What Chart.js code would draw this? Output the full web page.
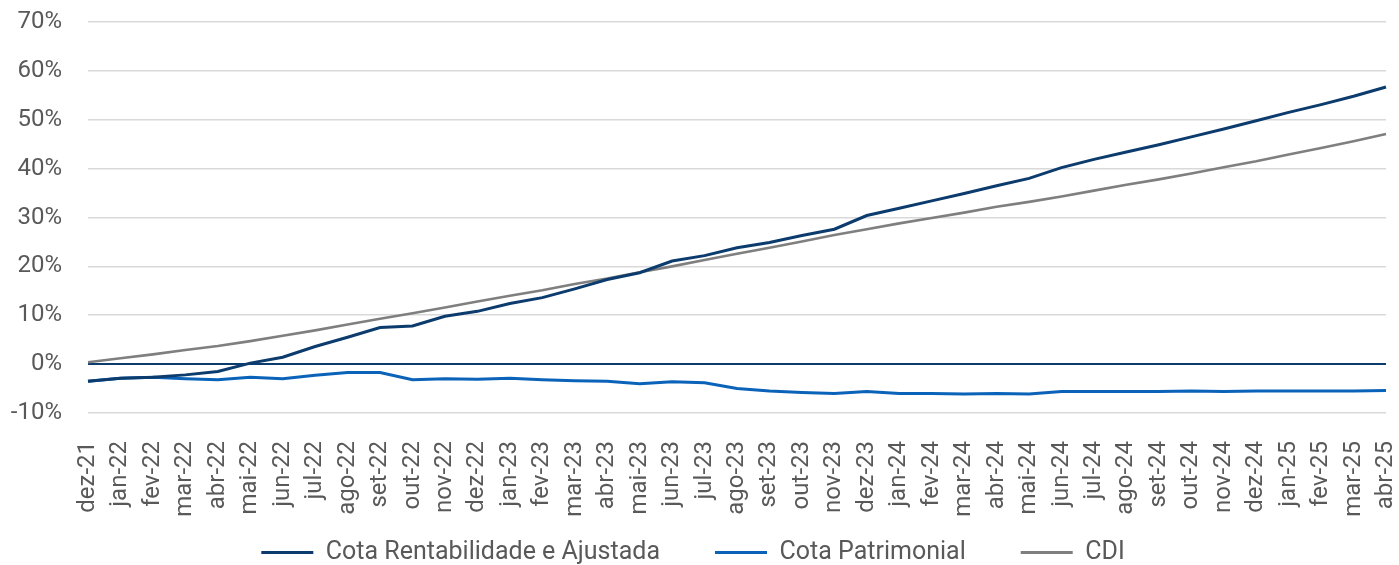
<!DOCTYPE html>
<html>
<head>
<meta charset="utf-8">
<script src="https://cdn.jsdelivr.net/npm/chart.js@4/dist/chart.umd.min.js"></script>
<style>
  html, body { margin: 0; padding: 0; background: #fff; }
  #wrap { width: 1399px; height: 565px; position: relative; }
</style>
</head>
<body>
<div id="wrap"><canvas id="chart"></canvas></div>
<script>
const months = [
  'dez-21', 'jan-22', 'fev-22', 'mar-22', 'abr-22', 'mai-22', 'jun-22', 'jul-22', 'ago-22', 'set-22',
  'out-22', 'nov-22', 'dez-22', 'jan-23', 'fev-23', 'mar-23', 'abr-23', 'mai-23', 'jun-23', 'jul-23',
  'ago-23', 'set-23', 'out-23', 'nov-23', 'dez-23', 'jan-24', 'fev-24', 'mar-24', 'abr-24', 'mai-24',
  'jun-24', 'jul-24', 'ago-24', 'set-24', 'out-24', 'nov-24', 'dez-24', 'jan-25', 'fev-25', 'mar-25',
  'abr-25',
];

// valores em %
const cotaRentabilidade = [
  -3.5, -2.9, -2.7, -2.2, -1.5, 0.2, 1.4, 3.6, 5.5, 7.5,
  7.8, 9.8, 10.8, 12.4, 13.6, 15.4, 17.3, 18.7, 21.1, 22.2,
  23.8, 24.9, 26.3, 27.6, 30.4, 31.9, 33.4, 34.9, 36.5, 38.0,
  40.2, 41.9, 43.4, 44.9, 46.5, 48.1, 49.8, 51.5, 53.1, 54.8,
  56.7,
];

const cotaPatrimonial = [
  -3.5, -2.9, -2.7, -3.0, -3.2, -2.7, -3.0, -2.3, -1.7, -1.7,
  -3.2, -3.0, -3.1, -2.9, -3.2, -3.4, -3.5, -4.0, -3.6, -3.8,
  -5.0, -5.5, -5.8, -6.0, -5.6, -6.0, -6.0, -6.1, -6.0, -6.1,
  -5.6, -5.6, -5.6, -5.6, -5.5, -5.6, -5.5, -5.5, -5.5, -5.5,
  -5.4,
];

const cdi = [
  0.4, 1.2, 2.0, 2.9, 3.7, 4.7, 5.8, 6.9, 8.1, 9.3,
  10.4, 11.6, 12.8, 14.0, 15.1, 16.4, 17.5, 18.8, 20.0, 21.3,
  22.6, 23.8, 25.1, 26.4, 27.6, 28.8, 29.9, 31.0, 32.2, 33.2,
  34.3, 35.5, 36.7, 37.8, 39.0, 40.3, 41.5, 42.9, 44.2, 45.6,
  47.1,
];

const yTicks = [-10, 0, 10, 20, 30, 40, 50, 60, 70];

const NAVY = '#0c3b6e';
const BLUE = '#0b63b9';
const GRAY = '#7f7f7f';
const TEXT = '#595959';
const FONT = 'Roboto, "Noto Sans", sans-serif';

function serie(label, data, color, width) {
  return {
    label,
    data,
    borderColor: color,
    backgroundColor: color,
    borderWidth: width,
    pointRadius: 0,
    tension: 0,
    fill: false,
  };
}

// the legend needs wide gaps between items (labels.padding) but that also
// pushes it down; pull it back up after the layout is done
const legendNudge = {
  id: 'legendNudge',
  afterLayout(chart) {
    chart.legend.top -= 45;
    chart.legend.bottom -= 45;
  },
};

const ctx = document.getElementById('chart');

new Chart(ctx, {
  type: 'line',
  data: {
    labels: months,
    datasets: [
      serie('Cota Rentabilidade e Ajustada', cotaRentabilidade, NAVY, 3),
      serie('Cota Patrimonial', cotaPatrimonial, BLUE, 3),
      serie('CDI', cdi, GRAY, 2.6),
    ],
  },
  plugins: [legendNudge],
  options: {
    responsive: true,
    maintainAspectRatio: false,
    animation: false,
    layout: {
      padding: { top: 22, right: 13, bottom: -55, left: 0 },
    },
    plugins: {
      tooltip: { enabled: false },
      legend: {
        position: 'bottom',
        labels: {
          boxWidth: 52,
          boxHeight: 3,
          padding: 55,
          color: TEXT,
          font: { family: FONT, size: 25 },
          generateLabels: (chart) =>
            Chart.defaults.plugins.legend.labels
              .generateLabels(chart)
              .map((item) => ({ ...item, lineWidth: 0 })),
        },
      },
    },
    scales: {
      x: {
        grid: { display: false },
        border: { display: false },
        ticks: {
          color: TEXT,
          font: { family: FONT, size: 24 },
          maxRotation: 90,
          minRotation: 90,
          autoSkip: false,
          padding: 20,
        },
        afterFit: (scale) => {
          scale.height = 117;
          scale.paddingLeft = 0;
          scale.paddingRight = 0;
        },
      },
      y: {
        min: -10,
        max: 70,
        afterBuildTicks: (scale) => {
          scale.ticks = yTicks.map((v) => ({ value: v }));
        },
        afterFit: (scale) => {
          scale.width = 88;
          scale.paddingTop = 0;
          scale.paddingBottom = 0;
        },
        border: { display: false },
        grid: {
          drawTicks: false,
          lineWidth: (c) => (c.tick && c.tick.value === 0 ? 2 : 1.6),
          color: (c) => (c.tick && c.tick.value === 0 ? NAVY : '#d9d9d9'),
        },
        ticks: {
          color: TEXT,
          font: { family: FONT, size: 24 },
          padding: 26,
          callback: (value) => value + '%',
        },
      },
    },
  },
});
</script>
</body>
</html>
